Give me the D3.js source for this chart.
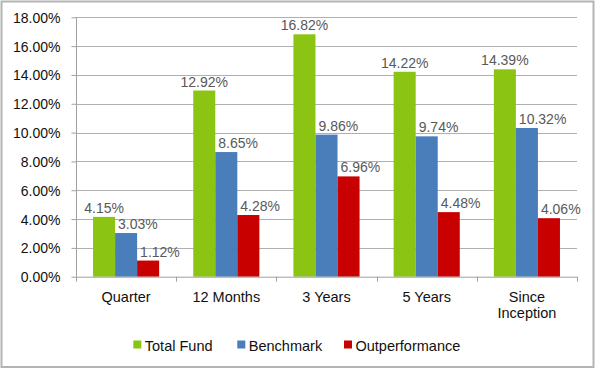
<!DOCTYPE html>
<html><head><meta charset="utf-8">
<script src="https://cdn.jsdelivr.net/npm/d3@7"></script>
<style>
html,body{margin:0;padding:0;background:#fff;}
svg{display:block;font-family:"Liberation Sans",Arial,sans-serif;}
</style></head>
<body>
<svg id="chart" width="596" height="369"></svg>
<script>
const categories = [["Quarter"], ["12 Months"], ["3 Years"], ["5 Years"], ["Since", "Inception"]];
const seriesNames = ["Total Fund", "Benchmark", "Outperformance"];
const totalFund = [4.15, 12.92, 16.82, 14.22, 14.39];
const benchmark = [3.03, 8.65, 9.86, 9.74, 10.32];
const outperformance = [1.12, 4.28, 6.96, 4.48, 4.06];
const yTicks = [0, 2, 4, 6, 8, 10, 12, 14, 16, 18];
const colors = ["#8CC414", "#4A7EBB", "#C80000"];

const series = [totalFund, benchmark, outperformance];
const svg = d3.select("#chart");

svg.append("rect").attr("x", 1.5).attr("y", 1.5).attr("width", 592).attr("height", 365.5)
  .attr("fill", "#fff").attr("stroke", "#b4b4b4").attr("stroke-width", 2);

const pLeft = 76, pRight = 577, pTop = 17.3, pBottom = 276.7;
const x0 = d3.scaleBand().domain(d3.range(categories.length)).range([pLeft, pRight]).paddingInner(0.34).paddingOuter(0.17);
const x1 = d3.scaleBand().domain(d3.range(series.length)).range([0, x0.bandwidth()]);
const y = d3.scaleLinear().domain([0, 18]).range([pBottom, pTop]);

// gridlines
svg.append("g").selectAll("line").data(yTicks.filter(d => d > 0)).join("line")
  .attr("x1", pLeft).attr("x2", pRight)
  .attr("y1", d => Math.round(y(d)) + 0.5).attr("y2", d => Math.round(y(d)) + 0.5)
  .attr("stroke", "#b0b0b0").attr("stroke-width", 1);

// y axis
const yAxis = d3.axisLeft(y).tickValues(yTicks).tickSize(5).tickPadding(11)
  .tickFormat(d => d.toFixed(2) + "%");
const gy = svg.append("g").attr("transform", `translate(${pLeft + 0.5},0)`).call(yAxis);
gy.select(".domain").attr("stroke", "#a0a0a0").attr("d", `M0,${pTop}V${pBottom}`);
gy.selectAll(".tick line").attr("stroke", "#a0a0a0");
gy.selectAll(".tick text").attr("font-size", 14).attr("fill", "#111").attr("font-family", "Liberation Sans, Arial, sans-serif").attr("dy", "0.36em");

// bars
const groups = svg.append("g").selectAll("g").data(categories.map((c, i) => i)).join("g")
  .attr("transform", i => `translate(${x0(i)},0)`);
groups.selectAll("rect").data(i => series.map((s, k) => ({k, v: s[i]}))).join("rect")
  .attr("x", d => x1(d.k)).attr("width", x1.bandwidth())
  .attr("y", d => y(d.v)).attr("height", d => pBottom - y(d.v))
  .attr("fill", d => colors[d.k]);

// value labels
groups.selectAll("text").data(i => series.map((s, k) => ({k, v: s[i]}))).join("text")
  .attr("x", d => d.k === 0 ? x1(d.k) + x1.bandwidth() / 2 : x1(d.k) + 3)
  .attr("y", d => y(d.v) - 4)
  .attr("text-anchor", d => d.k === 0 ? "middle" : "start")
  .attr("font-size", 14).attr("fill", "#595959")
  .text(d => d.v.toFixed(2) + "%");

// x axis
const xAxisG = svg.append("g");
xAxisG.append("line").attr("x1", pLeft).attr("x2", pRight).attr("y1", pBottom + 0.5).attr("y2", pBottom + 0.5).attr("stroke", "#a0a0a0");
const bounds = d3.range(categories.length + 1).map(i => i < categories.length ? x0(i) - x0.step() * 0.17 : pRight);
xAxisG.selectAll("line.tk").data(bounds).join("line").attr("class", "tk")
  .attr("x1", d => Math.round(d) + 0.5).attr("x2", d => Math.round(d) + 0.5)
  .attr("y1", pBottom).attr("y2", pBottom + 5).attr("stroke", "#a0a0a0");
const catText = xAxisG.selectAll("text").data(categories).join("text")
  .attr("x", (d, i) => x0(i) + x0.bandwidth() / 2)
  .attr("y", 301.5).attr("text-anchor", "middle").attr("font-size", 14.5).attr("fill", "#111");
catText.selectAll("tspan").data(d => d).join("tspan")
  .attr("x", function() { return this.parentNode.getAttribute("x"); })
  .attr("dy", (d, j) => j === 0 ? 0 : 16.5).text(d => d);

// legend
const legendX = [133.3, 237.3, 344];
const lg = svg.append("g").selectAll("g").data(seriesNames).join("g")
  .attr("transform", (d, i) => `translate(${legendX[i]},0)`);
lg.append("rect").attr("x", 0).attr("y", 340.5).attr("width", 8).attr("height", 8).attr("fill", (d, i) => colors[i]);
lg.append("text").attr("x", 11.5).attr("y", 350.7).attr("font-size", 14.5).attr("fill", "#111").text(d => d);
</script>
</body></html>
